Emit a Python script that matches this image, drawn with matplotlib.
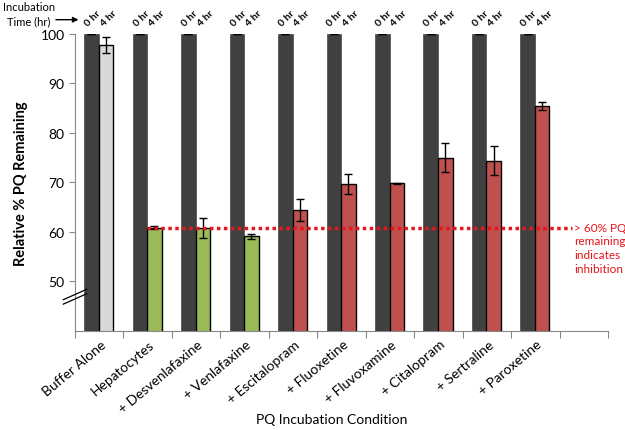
import matplotlib
matplotlib.use('Agg')
import matplotlib.pyplot as plt
from matplotlib.patches import FancyArrowPatch
import numpy as np

plt.rcParams['font.family'] = ['Lato', 'DejaVu Sans']

# Dữ liệu
conditions = ['Buffer Alone', 'Hepatocytes', '+ Desvenlafaxine', '+ Venlafaxine',
              '+ Escitalopram', '+ Fluoxetine', '+ Fluvoxamine', '+ Citalopram',
              '+ Sertraline', '+ Paroxetine']
zero_hr = [100, 100, 100, 100, 100, 100, 100, 100, 100, 100]
zero_hr_err = [0, 0, 0, 0, 0, 0, 0, 0, 0, 0]
four_hr = [97.8, 60.8, 60.8, 59.1, 64.5, 69.6, 69.8, 75.0, 74.4, 85.4]
four_hr_err = [1.6, 0.3, 2.0, 0.5, 2.2, 2.0, 0.15, 2.9, 2.9, 0.8]
four_colors = ['#d9d9d9', '#9bbb59', '#9bbb59', '#9bbb59', '#c0504d', '#c0504d',
               '#c0504d', '#c0504d', '#c0504d', '#c0504d']
threshold = 60.8
n_slots = 11

fig = plt.figure(figsize=(6.25, 4.31), dpi=100)
ax = fig.add_axes([0.12, 0.23, 0.853, 0.689])

x = np.arange(len(conditions)) + 0.5
w = 0.3
ax.bar(x - 0.16, zero_hr, w, color='#404040', edgecolor='#555555',
       linewidth=0.6, yerr=zero_hr_err, capsize=3,
       error_kw=dict(ecolor='black', elinewidth=1, capthick=1), zorder=2)
ax.bar(x + 0.14, four_hr, w, color=four_colors, edgecolor='black', linewidth=1,
       yerr=four_hr_err, capsize=3,
       error_kw=dict(ecolor='black', elinewidth=1, capthick=1), zorder=2)

# Đường ngưỡng
ax.plot([1.48, 10.25], [threshold, threshold], color='#e8151b', linestyle=(0, (1, 1)),
        linewidth=2.5, zorder=3)
ax.text(10.3, threshold + 1.25, '> 60% PQ\nremaining\nindicates\ninhibition',
        color='#e8151b', fontsize=8.5, va='top', ha='left', linespacing=1.3)

ax.set_xlim(0, n_slots)
ax.set_ylim(40, 100)
ax.set_yticks([50, 60, 70, 80, 90, 100])
ax.set_xticks(np.arange(n_slots + 1))
ax.set_xticklabels([])
for xi, lab in zip(x, conditions):
    ax.text(xi + 0.02, 38.6, lab, rotation=40, ha='right', va='top',
            fontsize=10, rotation_mode='anchor')

ax.tick_params(axis='y', direction='out', length=4, color='#888888', labelsize=10)
ax.tick_params(axis='x', direction='out', length=5, color='#888888')
for s in ['top', 'right']:
    ax.spines[s].set_visible(False)
for s in ['left', 'bottom']:
    ax.spines[s].set_color('#888888')

ax.set_ylabel('Relative % PQ Remaining', fontsize=10.5, fontweight='bold', labelpad=9)
fig.text(0.53, 0.025, 'PQ Incubation Condition', fontsize=10, ha='center', va='center')

# Nhãn thời gian
for xi in x:
    ax.text(xi - 0.2, 101.3, '0 hr', rotation=45, fontsize=7.5, ha='left',
            va='bottom', rotation_mode='anchor', fontweight='bold')
    ax.text(xi + 0.12, 101.3, '4 hr', rotation=45, fontsize=7.5, ha='left',
            va='bottom', rotation_mode='anchor', fontweight='bold')

fig.text(0.005, 0.982, 'Incubation', fontsize=8, va='center', ha='left')
fig.text(0.011, 0.95, 'Time (hr)', fontsize=8, va='center', ha='left')
fig.add_artist(FancyArrowPatch(
    (0.085, 0.952), (0.13, 0.952), transform=fig.transFigure,
    arrowstyle='-|>', mutation_scale=8, color='black', lw=1))

# Dấu ngắt trục
for dy in [0, 0.015]:
    ax.plot([-0.022, 0.022], [0.09 + dy, 0.125 + dy], transform=ax.transAxes,
            color='black', lw=0.9, clip_on=False, zorder=5)

plt.savefig('out.png', dpi=100)
